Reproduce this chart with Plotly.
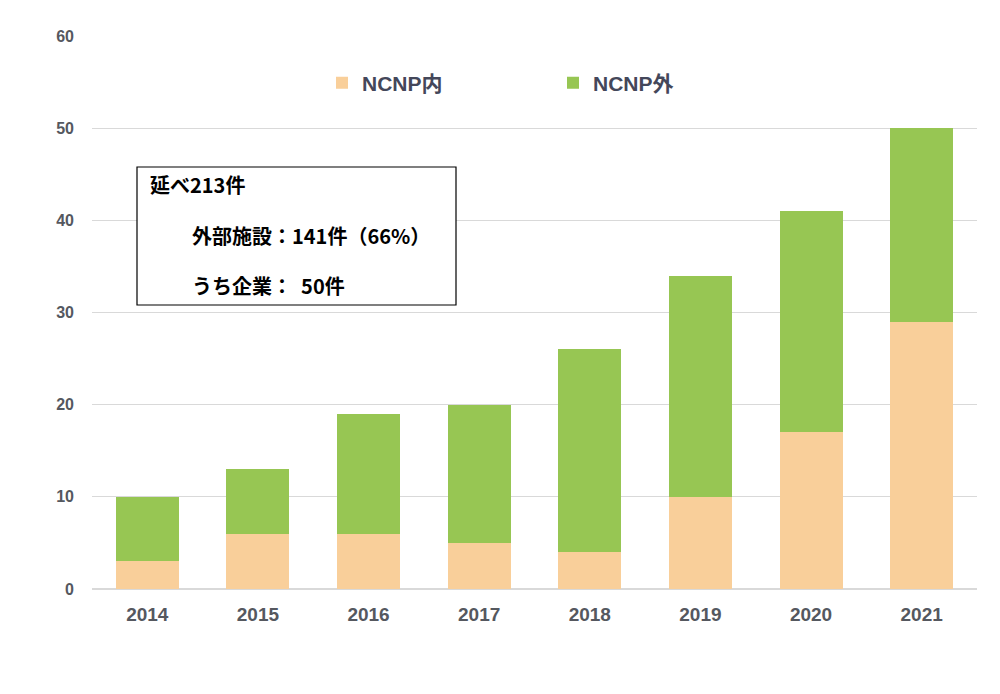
import plotly.graph_objects as go

years = ["2014", "2015", "2016", "2017", "2018", "2019", "2020", "2021"]
ncnp_inner = [3, 6, 6, 5, 4, 10, 17, 29]
ncnp_outer = [7, 7, 13, 15, 22, 24, 24, 21]
series_names = ["NCNP内", "NCNP外"]
colors = ["#F9CF9A", "#97C653"]
y_ticks = [0, 10, 20, 30, 40, 50, 60]
box_lines = ["延べ213件", "外部施設：141件（66%）", "うち企業：  50件"]

FONT = "Liberation Sans, Arial, Noto Sans CJK JP, sans-serif"

fig = go.Figure()
fig.add_trace(go.Bar(x=years, y=ncnp_inner, name=series_names[0], marker_color=colors[0], marker_line_width=0))
fig.add_trace(go.Bar(x=years, y=ncnp_outer, name=series_names[1], marker_color=colors[1], marker_line_width=0))

# page offset of 8px (body margin)
W, H = 1000, 694
PL, PR, PT, PB = 92, 977, 36, 589   # plot area in page coords
OFF = 8
L = PL - OFF
T = PT - OFF
R = W - (PR - OFF)
B = H - (PB - OFF)
pw, ph = PR - PL, PB - PT

def px(x):
    return (x - PL) / pw

def py(y):
    return (PB - y) / ph

fig.update_layout(
    width=W, height=H,
    margin=dict(l=L, r=R, t=T, b=B),
    barmode="stack",
    bargap=0.43,
    plot_bgcolor="white",
    paper_bgcolor="white",
    font=dict(family=FONT, color="#595959"),
    legend=dict(
        orientation="h", x=px(322), y=py(83), xanchor="left", yanchor="middle",
        font=dict(size=21, color="#44475A", family=FONT, weight="bold"),
        entrywidth=186, traceorder="normal", bgcolor="rgba(0,0,0,0)",
    ),
    xaxis=dict(
        tickfont=dict(size=19, color="#55585F", family=FONT, weight="bold"),
        showgrid=False, ticks="", showline=False, ticklabelstandoff=12,
    ),
    yaxis=dict(
        range=[0, 60], tickvals=y_ticks,
        tickfont=dict(size=16, color="#55585F", family=FONT, weight="bold"),
        gridcolor="#D9D9D9", gridwidth=1, zeroline=True, zerolinecolor="#D9D9D9",
        ticks="", showline=False, ticklabelstandoff=17,
    ),
    shapes=[dict(
        type="rect", xref="paper", yref="paper",
        x0=px(137), x1=px(456), y0=py(305), y1=py(167),
        line=dict(color="#000000", width=1.2), fillcolor="white", layer="above",
    )],
)

positions = [(148, 185), (190, 236), (190, 285)]
for txt, (x, y) in zip(box_lines, positions):
    fig.add_annotation(
        text=txt, xref="paper", yref="paper", x=px(x), y=py(y),
        xanchor="left", yanchor="middle", showarrow=False,
        font=dict(size=20, color="#000000", family="Noto Sans CJK JP, sans-serif", weight="bold"),
    )

fig.write_html("out.html")
